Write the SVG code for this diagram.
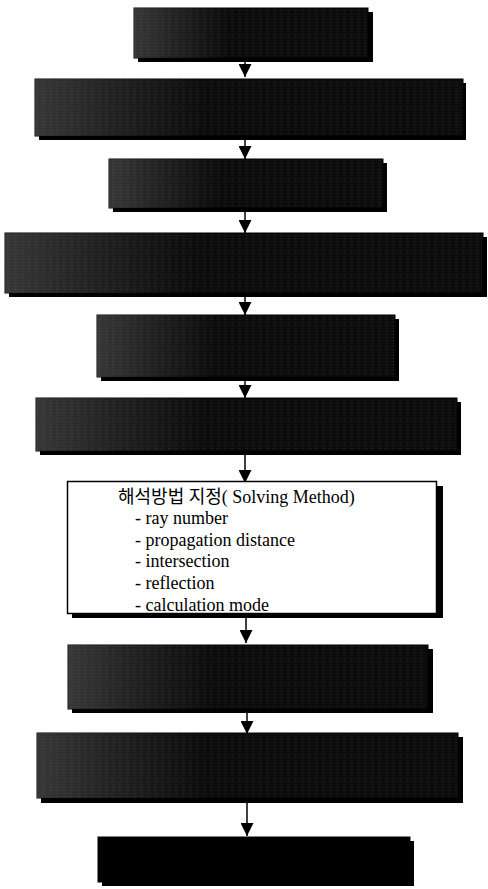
<svg xmlns="http://www.w3.org/2000/svg" width="488" height="889" viewBox="0 0 488 889">
<style>
.box{fill:url(#scan);stroke:#000;stroke-width:1}
.fade{fill:url(#fade)}
.shadow{fill:#000}
.conn{stroke:#000;stroke-width:1.5;fill:none}
.t{font-family:"Liberation Serif","Noto Sans CJK KR",serif;font-size:18px;fill:#000}
</style>
<defs>
<pattern id="scan" width="7" height="3" patternUnits="userSpaceOnUse">
<rect width="7" height="3" fill="#0c0c0c"/>
<rect y="1" width="3" height="0.5" fill="#2a2a2a"/>
</pattern>
<linearGradient id="fade" x1="0" x2="1" y1="0" y2="0">
<stop offset="0" stop-color="#888" stop-opacity="0.35"/>
<stop offset="0.18" stop-color="#888" stop-opacity="0.18"/>
<stop offset="0.4" stop-color="#888" stop-opacity="0"/>
<stop offset="1" stop-color="#888" stop-opacity="0"/>
</linearGradient>
<marker id="ah" markerWidth="13" markerHeight="13" refX="13" refY="6.5" orient="auto" markerUnits="userSpaceOnUse" viewBox="0 0 13 13">
<path d="M0,0 L13,6.5 L0,13 Z" fill="#000"/>
</marker>
</defs>
<g id="connectors">
<line class="conn" x1="245" y1="58" x2="245" y2="77" marker-end="url(#ah)"/>
<line class="conn" x1="245" y1="140" x2="245" y2="159" marker-end="url(#ah)"/>
<line class="conn" x1="245" y1="212" x2="245" y2="233" marker-end="url(#ah)"/>
<line class="conn" x1="245" y1="297" x2="245" y2="315" marker-end="url(#ah)"/>
<line class="conn" x1="245" y1="381" x2="245" y2="398" marker-end="url(#ah)"/>
<line class="conn" x1="245" y1="455" x2="245" y2="483" marker-end="url(#ah)"/>
<line class="conn" x1="246" y1="618" x2="246" y2="643" marker-end="url(#ah)"/>
<line class="conn" x1="247" y1="713" x2="247" y2="734" marker-end="url(#ah)"/>
<line class="conn" x1="247" y1="803" x2="247" y2="836" marker-end="url(#ah)"/>
</g>
<g id="node1"><rect class="shadow" x="138" y="12" width="235" height="50"/><rect class="box" x="134" y="8" width="234" height="50"/><rect class="fade" x="134" y="8" width="234" height="50"/></g>
<g id="node2"><rect class="shadow" x="39" y="83" width="427" height="57"/><rect class="box" x="35" y="79" width="428" height="57"/><rect class="fade" x="35" y="79" width="428" height="57"/></g>
<g id="node3"><rect class="shadow" x="113" y="163" width="274" height="49"/><rect class="box" x="109" y="159" width="274" height="49"/><rect class="fade" x="109" y="159" width="274" height="49"/></g>
<g id="node4"><rect class="shadow" x="9" y="237" width="478" height="60"/><rect class="box" x="5" y="233" width="478" height="60"/><rect class="fade" x="5" y="233" width="478" height="60"/></g>
<g id="node5"><rect class="shadow" x="101" y="319" width="298" height="62"/><rect class="box" x="97" y="315" width="298" height="62"/><rect class="fade" x="97" y="315" width="298" height="62"/></g>
<g id="node6"><rect class="shadow" x="40" y="402" width="421" height="53"/><rect class="box" x="36" y="398" width="421" height="53"/><rect class="fade" x="36" y="398" width="421" height="53"/></g>
<g id="node7">
<rect class="shadow" x="72" y="486" width="371" height="132"/>
<rect x="67.5" y="481.5" width="369" height="132" fill="#fff" stroke="#000" stroke-width="1.5"/>
<text class="t" x="118" y="503">해석방법 지정( Solving Method)</text>
<text class="t" x="135" y="524">- ray number</text>
<text class="t" x="135" y="546">- propagation distance</text>
<text class="t" x="135" y="567">- intersection</text>
<text class="t" x="135" y="589">- reflection</text>
<text class="t" x="135" y="611">- calculation mode</text>
</g>
<g id="node8"><rect class="shadow" x="72" y="649" width="361" height="64"/><rect class="box" x="68" y="645" width="360" height="64"/><rect class="fade" x="68" y="645" width="360" height="64"/></g>
<g id="node9"><rect class="shadow" x="41" y="737" width="422" height="66"/><rect class="box" x="37" y="733" width="421" height="65"/><rect class="fade" x="37" y="733" width="421" height="65"/></g>
<g id="node10"><rect class="shadow" x="102" y="841" width="312" height="45"/><rect x="98" y="837" width="312" height="45" fill="#000" stroke="#000"/></g>
</svg>
